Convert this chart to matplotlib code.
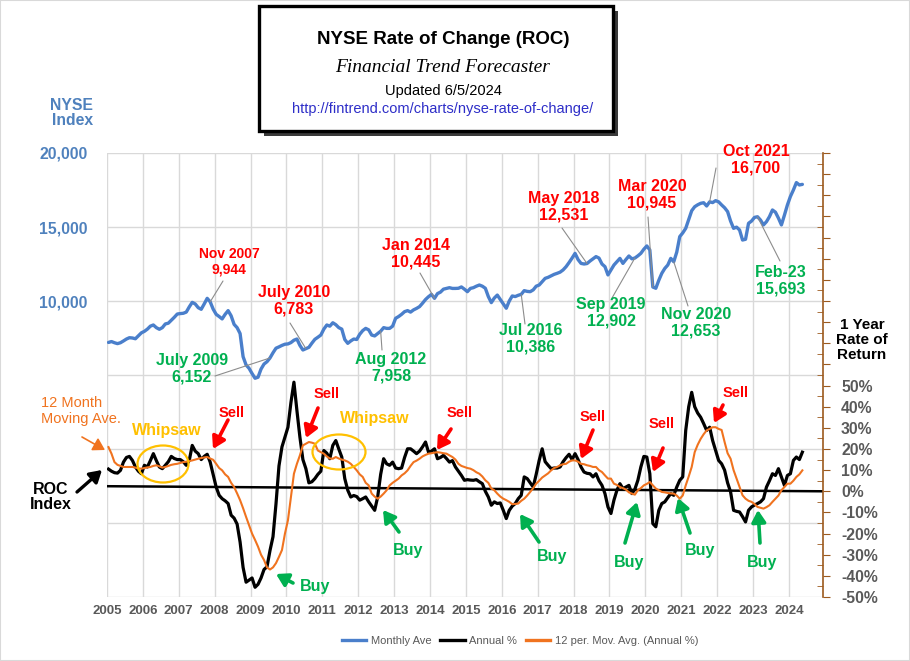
import matplotlib.pyplot as plt
import numpy as np
from matplotlib.patches import Rectangle, Ellipse
from matplotlib.lines import Line2D

plt.rcParams['font.family'] = ['Liberation Sans', 'DejaVu Sans']

# monthly data, Jan 2005 .. May 2024
nyse_monthly = [
    7200, 7260, 7180, 7120, 7180, 7300, 7430, 7520, 7500, 7450, 7650, 7850,  # 2005
    7950, 8100, 8300, 8380, 8200, 8090, 8200, 8450, 8500, 8700, 8900, 9120,  # 2006
    9150, 9170, 9250, 9600, 9910, 9800, 9550, 9440, 9800, 10180, 9944, 9450,  # 2007
    9100, 8950, 8790, 9100, 9350, 9000, 8420, 8200, 7800, 6240, 5680, 5450,  # 2008
    5100, 4780, 4850, 5400, 5740, 5900, 6152, 6500, 6810, 6900, 7000, 7080,  # 2009
    7100, 7190, 7350, 7430, 7000, 6690, 6783, 6870, 7150, 7410, 7550, 7700,  # 2010
    8100, 8380, 8300, 8530, 8400, 8200, 8100, 7400, 7140, 7300, 7430, 7400,  # 2011
    7750, 8000, 8150, 8050, 7700, 7640, 7800, 7958, 8200, 8150, 8150, 8300,  # 2012
    8830, 8950, 9100, 9280, 9350, 9250, 9400, 9500, 9620, 9850, 10100, 10290,  # 2013
    10445, 10180, 10500, 10600, 10800, 10850, 10900, 10850, 10850, 10860, 10950, 10800,  # 2014
    10630, 10850, 10900, 11000, 11080, 11000, 10860, 10300, 9890, 10200, 10400, 10100,  # 2015
    9800, 9510, 10000, 10340, 10300, 10386, 10450, 10700, 10650, 10630, 10750, 11000,  # 2016
    11080, 11300, 11530, 11600, 11700, 11800, 11870, 11950, 12100, 12320, 12600, 12900,  # 2017
    13220, 12800, 12540, 12500, 12531, 12700, 12850, 13000, 12900, 12500, 12320, 11760,  # 2018
    12100, 12430, 12650, 12880, 12540, 12800, 13040, 12850, 12902, 13050, 13220, 13500,  # 2019
    13720, 13450, 10945, 10860, 11400, 11870, 12200, 12430, 12880, 12653, 13300, 14350,  # 2020
    14600, 14910, 15500, 16100, 16370, 16500, 16600, 16640, 16420, 16700, 16650, 16780,  # 2021
    16700, 16490, 16300, 16040, 15400, 14910, 14990, 14800, 14120, 14170, 15250, 15400,  # 2022
    15650, 15693, 15470, 15140, 15360, 15700, 16150, 16000, 15600, 15140, 15800, 16490,  # 2023
    17060, 17500, 18000, 17840, 17880,  # 2024
]

annual_pct = [
    10.5, 9.5, 8.8, 8.6, 9.9, 13.8, 16, 16.5, 14.6, 11.5, 9.5, 8.3,  # 2005
    12.3, 11.5, 14.5, 17.8, 14.5, 11.5, 10.7, 12.3, 14, 16.5, 15.5, 15,  # 2006
    15, 14, 12.3, 14.6, 21.7, 19, 17.8, 15, 16.5, 17.5, 13.8, 8,  # 2007
    2, -1.9, -3.5, -4.5, -5.8, -11.3, -12.7, -15.5, -24, -36, -43, -42,  # 2008
    -41, -45.4, -44, -41, -37, -35.7, -28, -21.5, -6, 12, 21, 25.6,  # 2009
    30.3, 42, 51.6, 38.2, 25.6, 15, 10.7, 4, 4.5, 6, 8, 9.5,  # 2010
    19.3, 18, 15.4, 21.7, 24, 20, 16.2, 6, 0.5, -2.7, -2, -2.5,  # 2011
    -4.2, -3.5, -2.7, -5, -7, -9, -2.7, 8, 15.4, 13, 12.3, 13.8,  # 2012
    11, 10.7, 11, 16, 20.1, 20.1, 19, 17.8, 19, 21, 23.3, 18.5,  # 2013
    19, 20.1, 15.4, 16, 17, 15.5, 13.8, 14.5, 11.5, 9.5, 7.5, 5.2,  # 2014
    5.5, 5.3, 5.2, 5.5, 4.5, 3.6, 0, -2.7, -6.6, -5, -5.8, -5.5,  # 2015
    -9, -12.9, -9, -7, -5.8, -3.5, -1.9, 6.8, 6, 4, 2, 8,  # 2016
    14.6, 20.1, 14, 12.3, 10.7, 11, 11, 11.5, 14, 15.9, 17.5, 15,  # 2017
    17.8, 15, 11.5, 9.1, 8.5, 8.3, 6.8, 8.3, 5, 2.8, -1.1, -7.4,  # 2018
    -10.5, -4.2, 0.5, 3.6, 1.3, 2, 2.8, -1.1, 1, 5.2, 11.5, 16.5,  # 2019
    16.2, 8.3, -15.3, -16.8, -9, -5.8, -5, -3, -1.1, -1.9, 2, 5.2,  # 2020
    6.8, 28.8, 40, 46.8, 40, 37, 35, 32, 28.8, 30.3, 24, 19.3,  # 2021
    14.6, 13, 10, 4, -0.3, -9, -9.5, -9.8, -12, -14.5, -9, -7.4,  # 2022
    -6.5, -5.8, -5, -3.5, 2, 5, 8.3, 7.5, 10.7, 6.8, 2.8, 7.5,  # 2023
    8.3, 14.6, 16.2, 15, 18.5,  # 2024
]

ma12_pct = [
    20.9, 17.8, 13.8, 12.5, 12, 11.5, 11.5, 11.5, 11.5, 11.2, 10.8, 10.7,  # 2005
    11, 11.3, 11.5, 12, 12.3, 11.8, 11.2, 11.5, 12, 12.5, 12.8, 13,  # 2006
    13.4, 13.8, 14, 14.3, 14.6, 15, 15.4, 15.7, 16, 16.2, 15.5, 14.9,  # 2007
    13, 11, 9.9, 8, 6.8, 4, 2, -1, -4.2, -8, -12.1, -16,  # 2008
    -20, -23, -26.2, -30, -32.5, -36, -37, -36, -34, -31, -27.8, -20,  # 2009
    -13.7, -2.7, 8.3, 13, 17, 21.7, 22.5, 23.3, 23, 22.5, 19.3, 18.5,  # 2010
    17.8, 16.5, 15.5, 15.4, 16.2, 15.5, 15, 14.6, 14, 13, 11.5, 9.9,  # 2011
    8, 6.8, 4, 2.8, -1.1, -2.5, -3.5, -2.5, -1.1, 0.5, 2.8, 4,  # 2012
    5, 6, 7.5, 8.5, 9.9, 12, 13.8, 14.5, 15.4, 16.5, 17.2, 17.8,  # 2013
    18, 18.3, 18.5, 18.3, 18, 17.8, 17, 16.2, 15, 13, 12, 11.5,  # 2014
    11, 10.7, 10, 9, 8.3, 7, 5.2, 4, 1.3, 0.5, -1.1, -2.5,  # 2015
    -3.5, -4.2, -5, -6.1, -6, -5.8, -4.5, -3.5, -2, -0.3, 1.5, 3.6,  # 2016
    5, 6.5, 7.5, 8.5, 9.9, 11, 11.5, 12.3, 12.8, 13, 14, 14.6,  # 2017
    14.6, 14, 13, 12.8, 12.3, 12, 11.5, 11.5, 10, 9.1, 7.5, 6,  # 2018
    6, 3.6, 3, 2, 1.5, 0.8, -0.5, -1.1, -1.6, 0.5, 1.5, 2.8,  # 2019
    3.5, 4.4, 2.8, 1.3, 0.5, -0.3, -0.5, -0.8, -1, -1.1, -2, -3.5,  # 2020
    -2, 2.8, 7, 11.5, 18.5, 22, 24.8, 27, 28.8, 29.5, 30.3, 30.3,  # 2021
    29.5, 29, 23.3, 18, 15.4, 10, 6, 2, -1.9, -3.5, -4.5, -5,  # 2022
    -6, -7.4, -7.8, -8.2, -7.5, -6.6, -5, -3.5, -2, 0.5, 2, 3.6,  # 2023
    3.6, 5, 6.8, 8, 9.9,  # 2024
]

roc_zero_line = [2.4, 0.0]   # black ROC index base line, start / end
years = list(range(2005, 2025))

months = 2005 + (np.arange(len(nyse_monthly)) + 0.5) / 12

W, H = 910, 661
def fp(x, y):
    # pixel (from top-left) -> figure fraction
    return (x / W, 1 - y / H)

BLUE = '#4A7FCB'
ORANGE = '#F0731F'
RED = '#FF0000'
GREEN = '#00B050'
GOLD = '#FFC000'
GRAY = '#595959'
BROWN = '#9C5A1E'

fig = plt.figure(figsize=(9.1, 6.61), dpi=100)
x0, y0 = fp(107, 597)
x1, y1 = fp(823, 153)
ax = fig.add_axes([x0, y0, x1 - x0, y1 - y0])
ax2 = ax.twinx()

ax.set_xlim(2005, 2024.95)
ax.set_ylim(-10000, 20000)
ax2.set_ylim(-50, 160)

ax.set_xticks(years)
ax.set_xticklabels([str(y) for y in years], fontweight='bold', color=GRAY, fontsize=9.5)
ax.set_yticks(range(-10000, 20001, 5000))
ax.set_yticklabels(['{:,}'.format(v) if v >= 10000 else '' for v in range(-10000, 20001, 5000)],
                   fontweight='bold', color='#4F81BD', fontsize=11.3)
ax.tick_params(axis='x', length=0, pad=6)
ax.tick_params(axis='y', length=0, pad=14)
ax.grid(True, color='#D9D9D9', lw=1)
ax.set_axisbelow(True)
for s in ax.spines.values():
    s.set_visible(False)

ax.plot(months, nyse_monthly, color=BLUE, lw=2.4, solid_capstyle='round')

pct_ticks = list(range(-50, 161, 10))
ax2.set_yticks(pct_ticks)
ax2.set_yticklabels(['{}%'.format(v) if v <= 50 else '' for v in pct_ticks],
                    fontweight='bold', color=GRAY, fontsize=11.3)
ax2.set_yticks(list(range(-45, 160, 10)), minor=True)
ax2.tick_params(axis='y', which='major', length=5, direction='out', color=BROWN, pad=8)
ax2.tick_params(axis='y', which='minor', length=4, direction='in', color=BROWN)
for k, s in ax2.spines.items():
    s.set_visible(k == 'right')
ax2.spines['right'].set_color(BROWN)
ax2.spines['right'].set_linewidth(1.2)

ax2.plot(ax.get_xlim(), roc_zero_line, color='black', lw=1.8)
ax2.plot(months, annual_pct, color='black', lw=2.3)
ax2.plot(months, ma12_pct, color=ORANGE, lw=1.5)

# title box
fig.patches.append(Rectangle(fp(264, 136), 354 / W, 125 / H, transform=fig.transFigure,
                             facecolor='#3A3A3A', edgecolor='none', zorder=1))
fig.patches.append(Rectangle(fp(259, 131), 354 / W, 125 / H, transform=fig.transFigure,
                             facecolor='white', edgecolor='black', lw=2.4, zorder=2))
fig.text(*fp(443, 40), 'NYSE Rate of Change (ROC)', ha='center', va='center',
         fontsize=13.5, fontweight='bold', zorder=3)
fig.text(*fp(443, 68), 'Financial Trend Forecaster', ha='center', va='center',
         fontsize=14, style='italic', family='Liberation Serif', zorder=3)
fig.text(*fp(443, 91), 'Updated 6/5/2024', ha='center', va='center', fontsize=10.5, zorder=3)
url = fig.text(*fp(443, 109), 'http://fintrend.com/charts/nyse-rate-of-change/', ha='center',
               va='center', fontsize=10.5, color='#2E2EC8', zorder=3)
fig.canvas.draw()
bb = url.get_window_extent(fig.canvas.get_renderer())
fig.add_artist(Line2D([bb.x0 / W, bb.x1 / W], [fp(0, 117)[1]] * 2, color='#2E2EC8', lw=0.9))

# axis captions
fig.text(*fp(93, 113), 'NYSE\nIndex', ha='right', va='center', fontsize=11.3,
         fontweight='bold', color='#4F81BD', linespacing=1.05)
fig.text(*fp(862, 340), '1 Year\nRate of\nReturn', ha='center', va='center', fontsize=11,
         fontweight='bold', color='black', linespacing=1.05)

# NYSE peak / trough labels: (text, label centre px, leader start px, month index, colour, size)
index_notes = [
    ('Nov 2007\n9,944', (229, 262), (223, 281), 34, RED, 10),
    ('July 2010\n6,783', (294, 301), (290, 323), 66, RED, 11.5),
    ('Jan 2014\n10,445', (416, 254), (420, 273), 109, RED, 11.5),
    ('May 2018\n12,531', (564, 207), (562, 228), 160, RED, 11.5),
    ('Mar 2020\n10,945', (652, 195), (648, 217), 182, RED, 11.5),
    ('Oct 2021\n16,700', (756, 160), (716, 168), 201, RED, 11.5),
    ('July 2009\n6,152', (192, 369), (215, 376), 54, GREEN, 11.5),
    ('Aug 2012\n7,958', (391, 368), (382, 350), 91, GREEN, 11.5),
    ('Jul 2016\n10,386', (531, 339), (525, 324), 138, GREEN, 11.5),
    ('Sep 2019\n12,902', (611, 313), (612, 298), 176, GREEN, 11.5),
    ('Nov 2020\n12,653', (696, 323), (688, 306), 189, GREEN, 11.5),
    ('Feb-23\n15,693', (781, 281), (780, 261), 217, GREEN, 11.5),
]
for txt, c, start, i, col, fs in index_notes:
    fig.text(*fp(*c), txt, ha='center', va='center', fontsize=fs, fontweight='bold',
             color=col, linespacing=1.1)
    ax.annotate('', xy=(months[i], nyse_monthly[i]), xycoords='data',
                xytext=fp(*start), textcoords='figure fraction',
                arrowprops=dict(arrowstyle='-', color='#8C8C8C', lw=0.8, shrinkA=0, shrinkB=0))

def arrow(p0, p1, col, lw=2.6):
    ax.annotate('', xy=fp(*p1), xycoords='figure fraction', xytext=fp(*p0),
                textcoords='figure fraction',
                arrowprops=dict(arrowstyle='-|>,head_length=0.5,head_width=0.3', color=col,
                                lw=lw, shrinkA=0, shrinkB=0, mutation_scale=14))

sells = [((232, 413), (228, 420), (213, 449)),
         ((327, 394), (318, 408), (306, 438)),
         ((460, 413), (451, 429), (437, 450)),
         ((593, 417), (593, 430), (581, 459)),
         ((662, 424), (663, 448), (653, 472)),
         ((736, 393), (723, 405), (714, 423))]
for t, a, b in sells:
    fig.text(*fp(*t), 'Sell', ha='center', va='center', fontsize=10.5, fontweight='bold', color=RED)
    arrow(a, b, RED)

buys = [((315, 587), (293, 583), (276, 574)),
        ((408, 550), (399, 532), (383, 510)),
        ((552, 557), (539, 542), (520, 514)),
        ((629, 562), (625, 543), (637, 502)),
        ((700, 550), (690, 533), (678, 498)),
        ((762, 563), (760, 543), (758, 510))]
for t, a, b in buys:
    fig.text(*fp(*t), 'Buy', ha='center', va='center', fontsize=11.5, fontweight='bold', color=GREEN)
    arrow(a, b, GREEN)

for t, c, w, h in [((167, 431), (163, 464), 51, 37), ((375, 418), (339, 452), 53, 35)]:
    fig.text(*fp(*t), 'Whipsaw', ha='center', va='center', fontsize=11.5, fontweight='bold', color=GOLD)
    fig.patches.append(Ellipse(fp(*c), w / W, h / H, transform=fig.transFigure,
                               fill=False, edgecolor=GOLD, lw=1.6, zorder=5))

fig.text(*fp(41, 411), '12 Month\nMoving Ave.', ha='left', va='center', fontsize=10.5,
         color=ORANGE, linespacing=1.1)
arrow((82, 437), (105, 450), ORANGE, lw=1.2)
fig.text(*fp(51, 497), 'ROC\nIndex', ha='center', va='center', fontsize=11.5,
         fontweight='bold', color='black', linespacing=1.0)
arrow((77, 492), (102, 470), 'black', lw=2.4)

handles = [Line2D([], [], color=BLUE, lw=2.4), Line2D([], [], color='black', lw=2.4),
           Line2D([], [], color=ORANGE, lw=2.4)]
fig.legend(handles, ['Monthly Ave', 'Annual %', '12 per. Mov. Avg. (Annual %)'],
           loc='center', bbox_to_anchor=fp(520, 641), ncol=3, frameon=False, fontsize=8,
           handlelength=2.2, handletextpad=0.4, columnspacing=0.8, labelcolor=GRAY)

fig.patches.append(Rectangle((0, 0), 1, 1, transform=fig.transFigure, fill=False,
                             edgecolor='#D9D9D9', lw=1.5))

fig.savefig('out.png', dpi=100)
